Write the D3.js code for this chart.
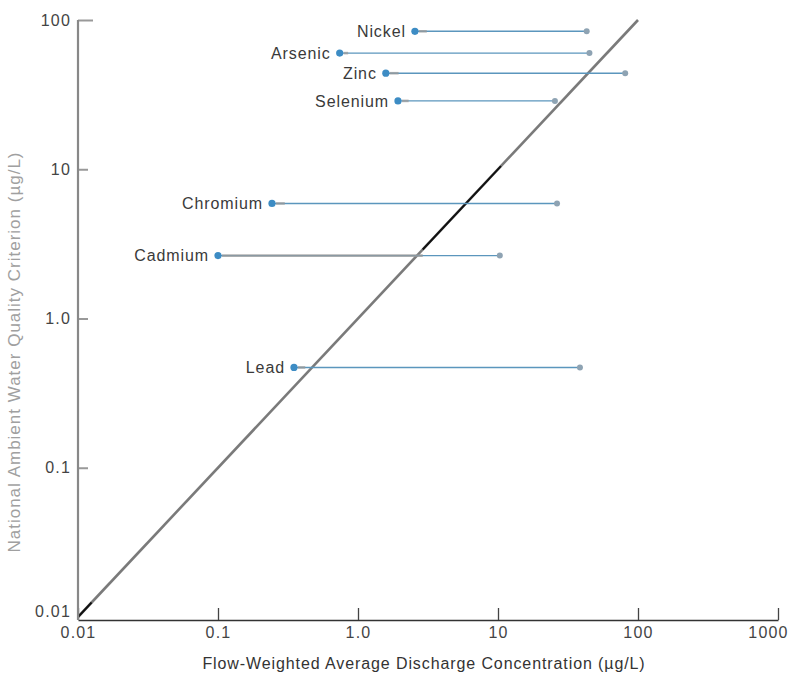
<!DOCTYPE html>
<html>
<head>
<meta charset="utf-8">
<script src="https://cdn.jsdelivr.net/npm/d3@7"></script>
<style>
  html, body { margin: 0; padding: 0; background: #fff; }
  svg { display: block; font-family: "Liberation Sans", Arial, sans-serif; }
</style>
</head>
<body>
<div id="chart"></div>
<script>
// Metals, their criterion (y) and the discharge range (x)
const metals    = ['Nickel', 'Arsenic', 'Zinc', 'Selenium', 'Chromium', 'Cadmium', 'Lead'];
const criterion = [84, 60, 44, 28.7, 5.9, 2.64, 0.47];
const dischargeMin = [2.55, 0.74, 1.58, 1.93, 0.243, 0.1, 0.349];
const dischargeMax = [43, 45, 81, 25.5, 26.4, 10.3, 38.5];
// grey end of the lower part of each range
const greyEnd = [3.1, 0.85, 1.95, 2.3, 0.30, 2.9, 0.42];

const xTicks = [0.01, 0.1, 1, 10, 100, 1000];
const xTickLabels = ['0.01', '0.1', '1.0', '10', '100', '1000'];
const yTicks = [0.01, 0.1, 1, 10, 100];
const yTickLabels = ['0.01', '0.1', '1.0', '10', '100'];
// the 1:1 line, and the darker stretches on it
const diagonal = [0.01, 100];
const diagonalDark = [2.9, 10.5];
const diagonalFoot = [0.01, 0.0125];

const width = 793, height = 679;

const x = d3.scaleLog().domain([0.01, 1000]).range([78, 778]);
const y = d3.scaleLog().domain([0.01, 100]).range([617, 20]);
const axisY = 620;

const svg = d3.select('#chart').append('svg')
  .attr('width', width)
  .attr('height', height);

// 1:1 line
svg.append('line')
  .attr('x1', x(diagonal[0])).attr('y1', y(diagonal[0]))
  .attr('x2', x(diagonal[1])).attr('y2', y(diagonal[1]))
  .attr('stroke', '#7a7a7a').attr('stroke-width', 2.6);
[diagonalDark, diagonalFoot].forEach(seg => {
  svg.append('line')
    .attr('x1', x(seg[0])).attr('y1', y(seg[0]))
    .attr('x2', x(seg[1])).attr('y2', y(seg[1]))
    .attr('stroke', '#111').attr('stroke-width', 2);
});

// ranges
const rows = metals.map((m, i) => ({
  name: m, c: criterion[i], lo: dischargeMin[i], hi: dischargeMax[i], g: greyEnd[i]
}));

const g = svg.append('g');

g.selectAll('line.range')
  .data(rows)
  .join('line')
  .attr('class', 'range')
  .attr('x1', d => x(d.lo)).attr('x2', d => x(d.hi))
  .attr('y1', d => y(d.c)).attr('y2', d => y(d.c))
  .attr('stroke', '#5b96bd').attr('stroke-width', 1.4);

g.selectAll('line.grey')
  .data(rows)
  .join('line')
  .attr('class', 'grey')
  .attr('x1', d => x(d.lo) + 4).attr('x2', d => x(d.g))
  .attr('y1', d => y(d.c)).attr('y2', d => y(d.c))
  .attr('stroke', '#9a9a9a').attr('stroke-width', 2.6)
  .attr('stroke-opacity', 0.75);

g.selectAll('circle.end')
  .data(rows)
  .join('circle')
  .attr('class', 'end')
  .attr('cx', d => x(d.hi)).attr('cy', d => y(d.c))
  .attr('r', 3)
  .attr('fill', '#8ea3b3');

g.selectAll('circle.start')
  .data(rows)
  .join('circle')
  .attr('class', 'start')
  .attr('cx', d => x(d.lo)).attr('cy', d => y(d.c))
  .attr('r', 3.6)
  .attr('fill', '#3d8cc4');

g.selectAll('text.label')
  .data(rows)
  .join('text')
  .attr('class', 'label')
  .attr('x', d => x(d.lo) - 9)
  .attr('y', d => y(d.c))
  .attr('dy', '0.35em')
  .attr('text-anchor', 'end')
  .attr('font-size', 16)
  .attr('letter-spacing', 0.9)
  .attr('fill', '#3a3a3a')
  .text(d => d.name);

// x axis
const xAxis = d3.axisBottom(x)
  .tickValues(xTicks)
  .tickFormat((d, i) => xTickLabels[i])
  .tickSize(-12)
  .tickSizeOuter(0)
  .tickPadding(7);

const gx = svg.append('g')
  .attr('transform', `translate(0,${axisY})`)
  .call(xAxis);
gx.select('.domain').attr('stroke', '#333').attr('stroke-width', 1.6);
gx.selectAll('.tick line').attr('stroke', '#444').attr('stroke-width', 1.3);
gx.selectAll('.tick text')
  .attr('font-family', '"Liberation Sans", Arial, sans-serif')
  .attr('font-size', 16)
  .attr('letter-spacing', 1.2)
  .attr('fill', '#444');
gx.selectAll('.tick')
  .filter(d => d === 1000)
  .select('text').attr('dx', -10);

// y axis
const yAxis = d3.axisLeft(y)
  .tickValues(yTicks)
  .tickFormat((d, i) => yTickLabels[i])
  .tickSize(-10)
  .tickSizeOuter(0)
  .tickPadding(7);

const gy = svg.append('g')
  .attr('transform', `translate(${x(0.01)},0)`)
  .call(yAxis);
gy.select('.domain').remove();
gy.append('line')
  .attr('x1', 0).attr('x2', 0)
  .attr('y1', y(100)).attr('y2', axisY)
  .attr('stroke', '#888').attr('stroke-width', 2.2);
gy.selectAll('.tick line').attr('stroke', '#999').attr('stroke-width', 2);
gy.selectAll('.tick')
  .filter(d => d === 100)
  .select('line').attr('x2', 15);
gy.selectAll('.tick')
  .filter(d => d === 0.01)
  .select('line').remove();
gy.selectAll('.tick')
  .filter(d => d === 0.01)
  .select('text').attr('dy', '-0.05em');
gy.selectAll('.tick text')
  .attr('font-family', '"Liberation Sans", Arial, sans-serif')
  .attr('font-size', 16)
  .attr('letter-spacing', 1.2)
  .attr('fill', '#444');

// titles
svg.append('text')
  .attr('x', 424).attr('y', 669)
  .attr('text-anchor', 'middle')
  .attr('font-size', 16)
  .attr('letter-spacing', 0.9)
  .attr('fill', '#333')
  .text('Flow-Weighted Average Discharge Concentration (\u00b5g/L)');

svg.append('text')
  .attr('transform', 'translate(20,352) rotate(-90)')
  .attr('text-anchor', 'middle')
  .attr('font-size', 17)
  .attr('letter-spacing', 1)
  .attr('fill', '#a0a0a0')
  .text('National Ambient Water Quality Criterion (\u00b5g/L)');
</script>
</body>
</html>
